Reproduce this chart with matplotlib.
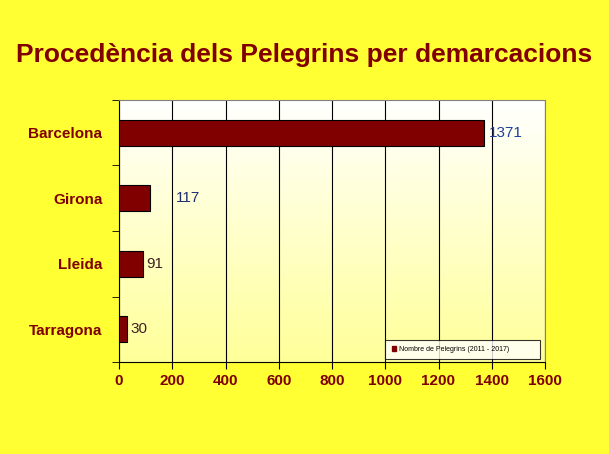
import matplotlib
matplotlib.use("Agg")
import matplotlib.pyplot as plt
import numpy as np
from matplotlib.colors import LinearSegmentedColormap

plt.rcParams['font.family'] = ['Liberation Sans', 'DejaVu Sans']

categories = ["Barcelona", "Girona", "Lleida", "Tarragona"]
values = [1371, 117, 91, 30]
xticks = [0, 200, 400, 600, 800, 1000, 1200, 1400, 1600]
legend_label = "Nombre de Pelegrins (2011 - 2017)"
title = "Procedència dels Pelegrins per demarcacions"

W, H = 609, 454
fig = plt.figure(figsize=(W/100, H/100), dpi=100, facecolor="#FFFF33")
ax = fig.add_axes([119/W, 1-362/H, (545-119)/W, (362-100)/H])

grad = np.linspace(1, 0, 256).reshape(-1, 1)
cmap = LinearSegmentedColormap.from_list("g", ["#FFFF99", "#FFFFFF"])
ax.imshow(grad, extent=[0, 1, 0, 1], transform=ax.transAxes, cmap=cmap,
          aspect="auto", zorder=0)

y = np.arange(len(categories))[::-1]
ax.barh(y, values, height=0.4, color="#800000", edgecolor="black", linewidth=0.8, zorder=3)
ax.set_xlim(0, 1600)
ax.set_ylim(-0.5, 3.5)
ax.set_xticks(xticks)
ax.set_xticklabels([str(t) for t in xticks], color="#800000", fontweight="bold", fontsize=11)
ax.set_yticks(y)
ax.set_yticklabels(categories, color="#800000", fontweight="bold", fontsize=11)
ax.set_yticks(np.arange(-0.5, 4, 1), minor=True)
ax.tick_params(axis="y", which="major", length=0, pad=12)
ax.tick_params(axis="y", which="minor", length=5, direction="out")
ax.tick_params(axis="x", length=5, direction="out")
ax.grid(axis="x", color="black", linewidth=0.8, zorder=1)
for s in ax.spines.values():
    s.set_color("#808080")
ax.spines["left"].set_color("black")
ax.spines["bottom"].set_color("black")

offsets = [18, 95, 10, 12]
colors = ["#1F3F9F", "#1F2F6F", "#402020", "#402020"]
for yi, v, o, c in zip(y, values, offsets, colors):
    ax.text(v + o, yi, str(v), va="center", ha="left", fontsize=11, color=c, zorder=4)

leg = ax.legend([plt.Rectangle((0, 0), 1, 1, color="#800000")], [legend_label],
                loc="center", fontsize=5, frameon=True, fancybox=False,
                edgecolor="black", handlelength=0.6, handleheight=0.6,
                handletextpad=0.4, borderpad=0.9,
                bbox_to_anchor=((382-119)/426, 2/262, 161/426, 21/262),
                bbox_transform=ax.transAxes, mode="expand")
leg.get_frame().set_linewidth(0.8)
leg.set_zorder(5)

fig.text(0.5, 1-55/H, title, ha="center", va="center", fontsize=19,
         fontweight="bold", color="#800000")
fig.savefig("out.png", dpi=100, facecolor=fig.get_facecolor())
